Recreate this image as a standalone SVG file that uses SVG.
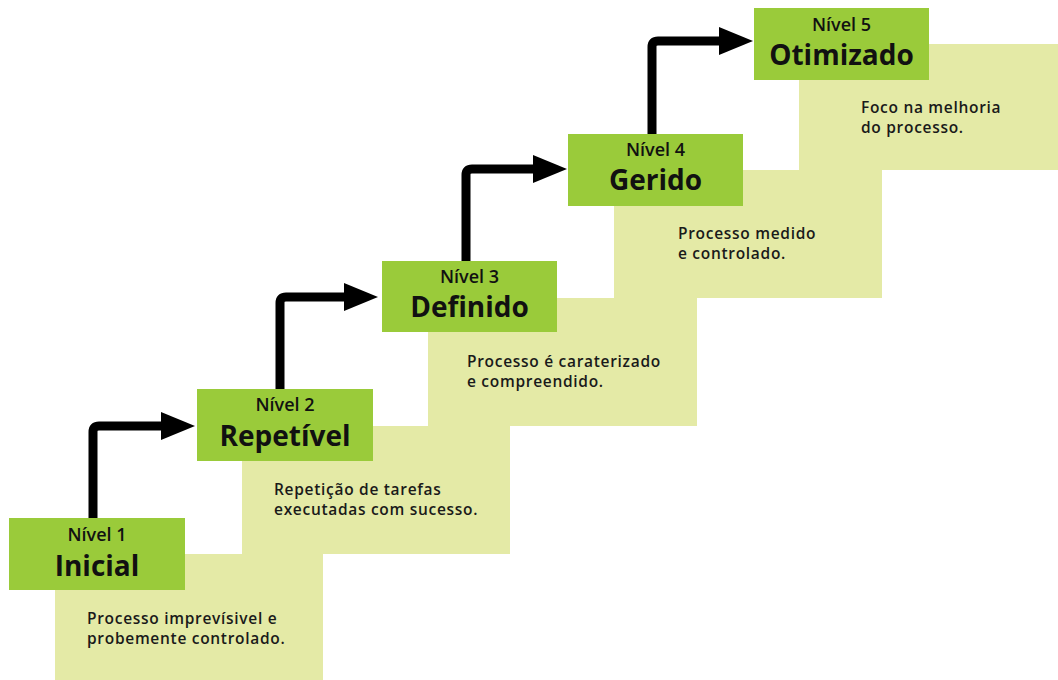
<svg xmlns="http://www.w3.org/2000/svg" width="1058" height="680" viewBox="0 0 1058 680">
<style>
.pale{fill:#e4eaa6}
.box{fill:#9acb3a}
.lvl{font-family:"Open Sans","Liberation Sans",sans-serif;font-weight:600;font-size:18px;fill:#111;text-anchor:middle}
.ttl{font-family:"Open Sans","Liberation Sans",sans-serif;font-weight:700;font-size:28px;fill:#111;text-anchor:middle}
.dsc{font-family:"Open Sans","Liberation Sans",sans-serif;font-weight:600;font-size:15.5px;fill:#1a1a1a;letter-spacing:0.7px}
.arr{fill:none;stroke:#000;stroke-width:9;stroke-linejoin:round}
</style>
<defs>
<marker id="head" viewBox="0 0 34 28" refX="5" refY="14" markerWidth="34" markerHeight="28" markerUnits="userSpaceOnUse" orient="auto">
<path d="M0,0 L34,14 L0,28 Z" fill="#000"/>
</marker>
</defs>
<rect width="1058" height="680" fill="#fff"/>
<g id="nivel1">
<rect class="pale" x="55" y="554" width="268" height="126"/>
<rect class="box" x="9" y="518" width="176" height="72"/>
<text class="lvl" x="97" y="541">Nível 1</text>
<text class="ttl" x="97" y="576">Inicial</text>
<text class="dsc" x="87" y="624">Processo imprevísivel e</text>
<text class="dsc" x="87" y="644">probemente controlado.</text>
</g>
<g id="nivel2">
<rect class="pale" x="242" y="426" width="268" height="128"/>
<rect class="box" x="197" y="389" width="176" height="72"/>
<text class="lvl" x="285" y="411">Nível 2</text>
<text class="ttl" x="285" y="446">Repetível</text>
<text class="dsc" x="274" y="495">Repetição de tarefas</text>
<text class="dsc" x="274" y="515">executadas com sucesso.</text>
</g>
<g id="nivel3">
<rect class="pale" x="428" y="298" width="269" height="128"/>
<rect class="box" x="382" y="261" width="175" height="71"/>
<text class="lvl" x="469.5" y="283">Nível 3</text>
<text class="ttl" x="469.5" y="317">Definido</text>
<text class="dsc" x="467" y="367">Processo é caraterizado</text>
<text class="dsc" x="467" y="387">e compreendido.</text>
</g>
<g id="nivel4">
<rect class="pale" x="614" y="170" width="268" height="128"/>
<rect class="box" x="568" y="134" width="175" height="72"/>
<text class="lvl" x="655.5" y="156">Nível 4</text>
<text class="ttl" x="655.5" y="190">Gerido</text>
<text class="dsc" x="678" y="239">Processo medido</text>
<text class="dsc" x="678" y="259">e controlado.</text>
</g>
<g id="nivel5">
<rect class="pale" x="799" y="44" width="259" height="126"/>
<rect class="box" x="754" y="8" width="175" height="72"/>
<text class="lvl" x="841.5" y="31">Nível 5</text>
<text class="ttl" x="841.5" y="65">Otimizado</text>
<text class="dsc" x="861" y="113">Foco na melhoria</text>
<text class="dsc" x="861" y="133">do processo.</text>
</g>
<g id="connectors">
<path class="arr" marker-end="url(#head)" d="M93,518 V432 Q93,426 99,426 H166"/>
<path class="arr" marker-end="url(#head)" d="M280,389 V303 Q280,297 286,297 H349"/>
<path class="arr" marker-end="url(#head)" d="M466,261 V175 Q466,169 472,169 H538"/>
<path class="arr" marker-end="url(#head)" d="M652,134 V47 Q652,41 658,41 H724"/>
</g>
</svg>
